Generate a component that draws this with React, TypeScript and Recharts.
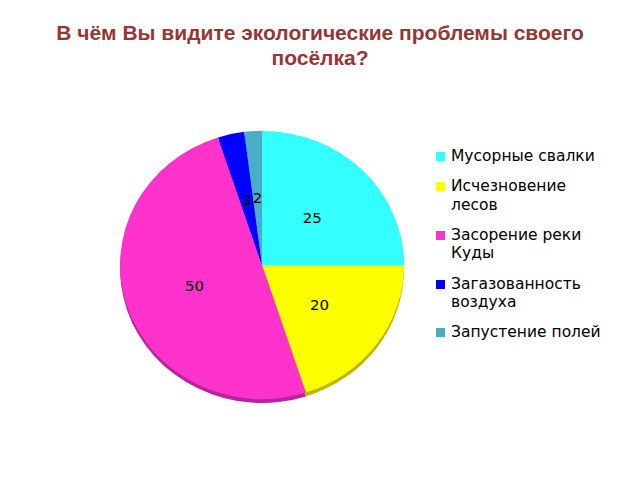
import * as React from "react";
import { PieChart, Pie, Cell } from "recharts";

const categories = [
  "Мусорные свалки",
  "Исчезновение\nлесов",
  "Засорение реки\nКуды",
  "Загазованность\nвоздуха",
  "Запустение полей",
];
const values = [25, 20, 50, 3, 2];
const colors = ["#33FFFF", "#FFFF00", "#FF33CC", "#0000FF", "#4BACC6"];
const darkColors = ["#22B8B8", "#B8B800", "#B8249A", "#0000A8", "#367D90"];

const data = categories.map((name, i) => ({ name, value: values[i] }));

const RADIAN = Math.PI / 180;

function renderLabel(props: any) {
  const { cx, cy, midAngle, outerRadius, value } = props;
  const r = outerRadius * 0.5;
  const x = cx + r * Math.cos(-midAngle * RADIAN);
  const y = cy + r * Math.sin(-midAngle * RADIAN);
  return (
    <text
      x={x}
      y={y}
      fill="#000"
      fontSize={15}
      fontFamily="DejaVu Sans"
      textAnchor="middle"
      dominantBaseline="central"
    >
      {value}
    </text>
  );
}

export default function App() {
  return (
    <div
      style={{
        position: "absolute",
        left: 0,
        top: 0,
        width: 640,
        height: 480,
        background: "#fff",
        overflow: "hidden",
      }}
    >
      <div
        style={{
          position: "absolute",
          left: 0,
          top: 20,
          width: 640,
          textAlign: "center",
          color: "#953735",
          fontFamily: "Liberation Sans, Arial, sans-serif",
          fontWeight: "bold",
          fontSize: 21,
          lineHeight: "25px",
        }}
      >
        В чём Вы видите экологические проблемы своего
        <br />
        посёлка?
      </div>

      <div
        style={{
          position: "absolute",
          left: 112,
          top: 115,
          width: 300,
          height: 300,
          transform: "scaleY(0.945)",
          transformOrigin: "150px 150px",
        }}
      >
        <PieChart
          width={300}
          height={300}
          margin={{ top: 0, right: 0, bottom: 0, left: 0 }}
        >
          <Pie
            data={data}
            dataKey="value"
            cx={150}
            cy={154}
            outerRadius={142}
            startAngle={90}
            endAngle={-270}
            stroke="none"
            isAnimationActive={false}
          >
            {data.map((d, i) => (
              <Cell key={"s" + i} fill={darkColors[i]} />
            ))}
          </Pie>
          <Pie
            data={data}
            dataKey="value"
            cx={150}
            cy={150}
            outerRadius={142}
            startAngle={90}
            endAngle={-270}
            stroke="none"
            label={renderLabel}
            labelLine={false}
            isAnimationActive={false}
          >
            {data.map((d, i) => (
              <Cell key={i} fill={colors[i]} />
            ))}
          </Pie>
        </PieChart>
      </div>

      <div
        style={{
          position: "absolute",
          left: 436,
          top: 147,
          fontFamily: "DejaVu Sans, sans-serif",
          fontSize: 15.5,
          lineHeight: "18.5px",
          color: "#000",
        }}
      >
        {data.map((d, i) => (
          <div
            key={i}
            style={{ display: "flex", alignItems: "flex-start", marginBottom: 11.7 }}
          >
            <span
              style={{
                display: "inline-block",
                width: 9,
                height: 9,
                background: colors[i],
                marginTop: 5,
                marginRight: 6,
              }}
            />
            <span style={{ whiteSpace: "pre" }}>{d.name}</span>
          </div>
        ))}
      </div>
    </div>
  );
}
